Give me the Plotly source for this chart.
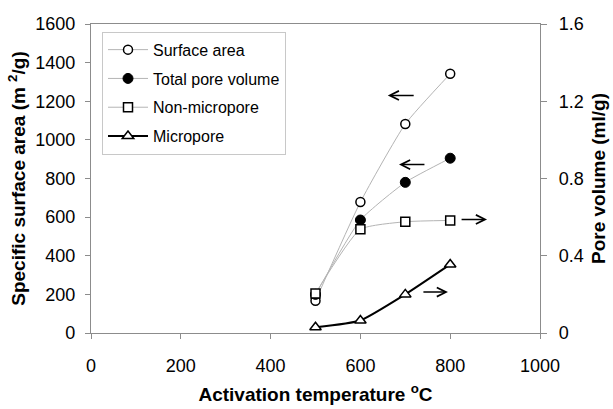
import plotly.graph_objects as go

temps = [500, 600, 700, 800]
surface_area = [167, 678, 1082, 1342]
total_pore_volume = [0.20, 0.585, 0.78, 0.905]
non_micropore = [0.205, 0.537, 0.576, 0.583]
micropore = [0.03, 0.065, 0.20, 0.355]

x_ticks = [0, 200, 400, 600, 800, 1000]
y_ticks = [0, 200, 400, 600, 800, 1000, 1200, 1400, 1600]
y2_ticks = [0, 0.4, 0.8, 1.2, 1.6]
y2_labels = ["0", "0.4", "0.8", "1.2", "1.6"]

FONT = "Liberation Sans, Arial, sans-serif"
GREY = "#b4b4b4"
AX = "#8c8c8c"

fig = go.Figure()
fig.add_trace(go.Scatter(
    x=temps, y=surface_area, name="Surface area", yaxis="y", legendgroup="a",
    mode="lines+markers", line=dict(color=GREY, width=1, shape="spline", smoothing=0.5),
    marker=dict(symbol="circle", size=9, color="white", line=dict(color="black", width=1.5))))
fig.add_trace(go.Scatter(
    x=temps, y=total_pore_volume, name="Total pore volume", yaxis="y2", legendgroup="b",
    mode="lines+markers", line=dict(color=GREY, width=1, shape="spline", smoothing=0.5),
    marker=dict(symbol="circle", size=10, color="black", line=dict(color="black", width=1))))
fig.add_trace(go.Scatter(
    x=temps, y=non_micropore, name="Non-micropore", yaxis="y2", legendgroup="c",
    mode="lines+markers", line=dict(color=GREY, width=1, shape="spline", smoothing=0.5),
    marker=dict(symbol="square", size=9, color="white", line=dict(color="black", width=1.5))))
fig.add_trace(go.Scatter(
    x=temps, y=micropore, name="Micropore", yaxis="y2", legendgroup="d",
    mode="lines+markers", line=dict(color="black", width=2, shape="spline", smoothing=0.5),
    marker=dict(symbol="triangle-up", size=10, color="white", line=dict(color="black", width=1.5))))

arrows = [
    (661, 722, 1230),
    (686, 746, 872),
    (882, 822, 588),
    (795, 737, 212),
]
annotations = []
for hx, tx, yy in arrows:
    annotations.append(dict(x=hx, y=yy, ax=tx, ay=yy, xref="x", yref="y", axref="x", ayref="y",
                            showarrow=True, arrowhead=5, arrowsize=1.2, arrowwidth=1.5,
                            arrowcolor="black", text=""))

fig.update_layout(
    width=613, height=409,
    margin=dict(l=91, r=73, t=24, b=76, autoexpand=False),
    paper_bgcolor="white", plot_bgcolor="white",
    font=dict(family=FONT, size=18, color="black"),
    showlegend=True,
    legend=dict(x=0.0245, y=0.975, xanchor="left", yanchor="top",
                bordercolor="#c8c8c8", borderwidth=1, bgcolor="white",
                font=dict(family=FONT, size=16), tracegroupgap=5,
                itemwidth=40),
    xaxis=dict(range=[0, 1000], tickvals=x_ticks, showgrid=False, zeroline=False,
               showline=True, linecolor=AX, linewidth=1.3, mirror=True, automargin=False,
               ticks="outside", ticklen=5, tickcolor=AX, ticklabelstandoff=11,
               tickfont=dict(size=18),
               title=dict(text="<b>Activation temperature <sup>o</sup>C</b>", font=dict(size=19), standoff=12)),
    yaxis=dict(range=[0, 1600], tickvals=y_ticks, showgrid=False, zeroline=False,
               showline=True, linecolor=AX, linewidth=1.3, automargin=False,
               ticks="outside", ticklen=5, tickcolor=AX, ticklabelstandoff=6,
               tickfont=dict(size=18),
               title=dict(text="<b>Specific surface area (m <sup>2</sup>/g)</b>", font=dict(size=19), standoff=4)),
    yaxis2=dict(range=[0, 1.6], tickvals=y2_ticks, ticktext=y2_labels, overlaying="y", side="right",
                showgrid=False, zeroline=False, showline=True, linecolor=AX, linewidth=1.3, automargin=False,
                ticks="outside", ticklen=6, tickcolor=AX, ticklabelstandoff=8,
                tickfont=dict(size=18),
                title=dict(text="<b>Pore volume (ml/g)</b>", font=dict(size=19), standoff=8)),
    annotations=annotations,
)
fig.write_html("out.html")
